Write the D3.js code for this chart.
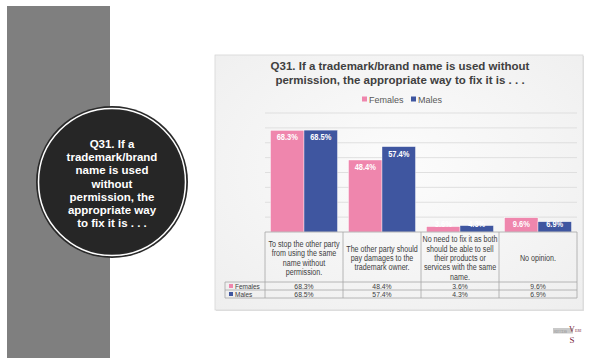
<!DOCTYPE html>
<html>
<head>
<meta charset="utf-8">
<script src="https://cdn.jsdelivr.net/npm/d3@7"></script>
<style>
  html, body { margin: 0; padding: 0; background: #ffffff; }
  svg { display: block; }
</style>
</head>
<body>
<svg id="chart" width="589" height="358"></svg>
<script>
// Survey answers to Q31, split by gender
const categories = [
  ["To stop the other party", "from using the same", "name without", "permission."],
  ["The other party should", "pay damages to the", "trademark owner."],
  ["No need to fix it as both", "should be able to sell", "their products or", "services with the same", "name."],
  ["No opinion."]
];
const seriesNames = ["Females", "Males"];
const females = [68.3, 48.4, 3.6, 9.6];
const males = [68.5, 57.4, 4.3, 6.9];
const yTicks = [0, 10, 20, 30, 40, 50, 60, 70, 80];
const colors = ["#ef86ad", "#3f56a0"];

const svg = d3.select("#chart");
const bold = "'Liberation Sans', Arial, sans-serif";
const narrow = "'Liberation Sans Narrow', 'Liberation Sans', Arial, sans-serif";

// Condense a text selection horizontally so it reads like a narrow face
function condense(sel, factor) {
  sel.each(function () {
    const w = this.getComputedTextLength();
    if (w > 0) d3.select(this).attr("textLength", w * factor).attr("lengthAdjust", "spacingAndGlyphs");
  });
}

// Left side panel with the question badge
svg.append("rect").attr("x", 7).attr("y", 6).attr("width", 103).attr("height", 352).attr("fill", "#7f7f7f");
const cx = 112, cy = 182;
svg.append("circle").attr("cx", cx).attr("cy", cy).attr("r", 76).attr("fill", "#2a2a2a");
svg.append("circle").attr("cx", cx).attr("cy", cy).attr("r", 73.5).attr("fill", "none").attr("stroke", "#ffffff").attr("stroke-width", 1.5);
svg.append("circle").attr("cx", cx).attr("cy", cy).attr("r", 72).attr("fill", "#262626");
const badge = ["Q31. If a", "trademark/brand", "name is used", "without", "permission, the", "appropriate way", "to fix it is . . ."];
svg.append("g").selectAll("text").data(badge).join("text")
  .attr("x", cx).attr("y", (d, i) => 148 + i * 13.2)
  .attr("text-anchor", "middle")
  .attr("font-family", bold).attr("font-weight", "bold").attr("font-size", 11.5)
  .attr("fill", "#ffffff").text(d => d);

// Chart panel
const defs = svg.append("defs");
const grad = defs.append("radialGradient").attr("id", "panelBg").attr("cx", "50%").attr("cy", "45%").attr("r", "75%");
grad.append("stop").attr("offset", "0%").attr("stop-color", "#fcfcfc");
grad.append("stop").attr("offset", "100%").attr("stop-color", "#eeeeee");
svg.append("rect").attr("x", 216).attr("y", 56).attr("width", 368).attr("height", 255).attr("fill", "#e2e2e2");
svg.append("rect").attr("x", 215).attr("y", 55).attr("width", 368).attr("height", 255)
  .attr("fill", "url(#panelBg)").attr("stroke", "#d6d6d6").attr("stroke-width", 0.8);

// Title
svg.append("g").selectAll("text")
  .data(["Q31. If a trademark/brand name is used without", "permission, the appropriate way to fix it is . . ."])
  .join("text")
  .attr("x", 400).attr("y", (d, i) => 70 + i * 14)
  .attr("text-anchor", "middle")
  .attr("font-family", bold).attr("font-weight", "bold").attr("font-size", 11.5)
  .attr("fill", "#404040").text(d => d);

// Legend
const legendX = [362, 411];
const legend = svg.append("g").selectAll("g").data(seriesNames).join("g")
  .attr("transform", (d, i) => `translate(${legendX[i]},99)`);
legend.append("rect").attr("x", 0).attr("y", -2.5).attr("width", 5).attr("height", 5).attr("fill", (d, i) => colors[i]);
legend.append("text").attr("x", 7).attr("y", 3.5)
  .attr("font-family", bold).attr("font-size", 9).attr("fill", "#595959").text(d => d);

// Scales
const plotLeft = 265, plotRight = 577, plotTop = 113, plotBase = 232;
const x0 = d3.scaleBand().domain(d3.range(categories.length)).range([plotLeft, plotRight]).paddingInner(0).paddingOuter(0);
const x1 = d3.scaleBand().domain(seriesNames).range([0, x0.bandwidth()]).paddingOuter(0.165).paddingInner(0);
const y = d3.scaleLinear().domain([0, 80]).range([plotBase, plotTop]);

// Gridlines
svg.append("g").selectAll("line").data(yTicks.slice(1)).join("line")
  .attr("x1", plotLeft).attr("x2", plotRight)
  .attr("y1", d => y(d)).attr("y2", d => y(d))
  .attr("stroke", "#d9d9d9").attr("stroke-width", 0.8);

// Bars
const seriesData = [females, males];
const groups = svg.append("g").selectAll("g").data(seriesNames).join("g");
groups.each(function (name, si) {
  const g = d3.select(this);
  const vals = seriesData[si];
  g.selectAll("rect").data(vals).join("rect")
    .attr("x", (d, i) => x0(i) + x1(name))
    .attr("y", d => y(d))
    .attr("width", x1.bandwidth())
    .attr("height", d => plotBase - y(d))
    .attr("fill", colors[si])
    .attr("stroke", "#ffffff").attr("stroke-width", 0.4);
  const lbl = g.selectAll("text").data(vals).join("text")
    .attr("x", (d, i) => x0(i) + x1(name) + x1.bandwidth() / 2)
    .attr("y", d => Math.min(y(d) + 7, plotBase - 8) + 3)
    .attr("text-anchor", "middle")
    .attr("font-family", narrow).attr("font-weight", "bold").attr("font-size", 8.5)
    .attr("fill", "#ffffff").text(d => d.toFixed(1) + "%");
  condense(lbl, 0.88);
});

// Data table under the plot
const tableLeft = 225, headerBottom = 282, row1Bottom = 290, row2Bottom = 298;
const tbl = svg.append("g").attr("stroke", "#a6a6a6").attr("stroke-width", 0.8).attr("fill", "none");
tbl.append("line").attr("x1", plotLeft).attr("x2", plotRight).attr("y1", plotBase).attr("y2", plotBase);
[headerBottom, row1Bottom, row2Bottom].forEach(yy =>
  tbl.append("line").attr("x1", tableLeft).attr("x2", plotRight).attr("y1", yy).attr("y2", yy));
tbl.append("line").attr("x1", tableLeft).attr("x2", tableLeft).attr("y1", headerBottom).attr("y2", row2Bottom);
d3.range(categories.length + 1).forEach(i => {
  const xx = i < categories.length ? x0(i) : plotRight;
  tbl.append("line").attr("x1", xx).attr("x2", xx).attr("y1", plotBase).attr("y2", row2Bottom);
});

// Category labels in the header row
categories.forEach((lines, i) => {
  const midY = (plotBase + headerBottom) / 2 + 1.5;
  const lh = 9.3;
  const t = svg.append("g").selectAll("text").data(lines).join("text")
    .attr("x", x0(i) + x0.bandwidth() / 2)
    .attr("y", (d, j) => midY - (lines.length - 1) * lh / 2 + j * lh + 2.5)
    .attr("text-anchor", "middle")
    .attr("font-family", narrow).attr("font-size", 8.5)
    .attr("fill", "#404040").text(d => d);
  condense(t, 0.84);
});

// Value rows
const rowMid = [(headerBottom + row1Bottom) / 2, (row1Bottom + row2Bottom) / 2];
seriesNames.forEach((name, si) => {
  svg.append("rect").attr("x", 229).attr("y", rowMid[si] - 2).attr("width", 4).attr("height", 4).attr("fill", colors[si]);
  const key = svg.append("text").attr("x", 235).attr("y", rowMid[si] + 2.5)
    .attr("font-family", narrow).attr("font-size", 6.8).attr("fill", "#404040").text(name);
  condense(key, 0.95);
  const v = svg.append("g").selectAll("text").data(seriesData[si]).join("text")
    .attr("x", (d, i) => x0(i) + x0.bandwidth() / 2)
    .attr("y", rowMid[si] + 2.5)
    .attr("text-anchor", "middle")
    .attr("font-family", narrow).attr("font-size", 6.8).attr("fill", "#404040")
    .text(d => d.toFixed(1) + "%");
  condense(v, 1.0);
});

// Small company mark in the corner
const logo = svg.append("g");
const serif = "'Liberation Serif', serif";
logo.append("rect").attr("x", 553).attr("y", 328).attr("width", 20).attr("height", 5.5).attr("fill", "#c9c9c9");
logo.append("text").attr("x", 569).attr("y", 332).attr("font-family", serif)
  .attr("font-size", 8).attr("fill", "#7a1f3d").text("V");
logo.append("text").attr("x", 575).attr("y", 331.5).attr("font-family", serif)
  .attr("font-size", 4).attr("fill", "#7a1f3d").text("ERI");
logo.append("text").attr("x", 569.5).attr("y", 343).attr("font-family", serif)
  .attr("font-size", 9).attr("fill", "#7a1f3d").text("S");
logo.append("text").attr("x", 554).attr("y", 333).attr("font-family", serif)
  .attr("font-size", 3.5).attr("textLength", 13).attr("lengthAdjust", "spacingAndGlyphs")
  .attr("fill", "#8a8a8a").text("SUCCESS");
</script>
</body>
</html>
